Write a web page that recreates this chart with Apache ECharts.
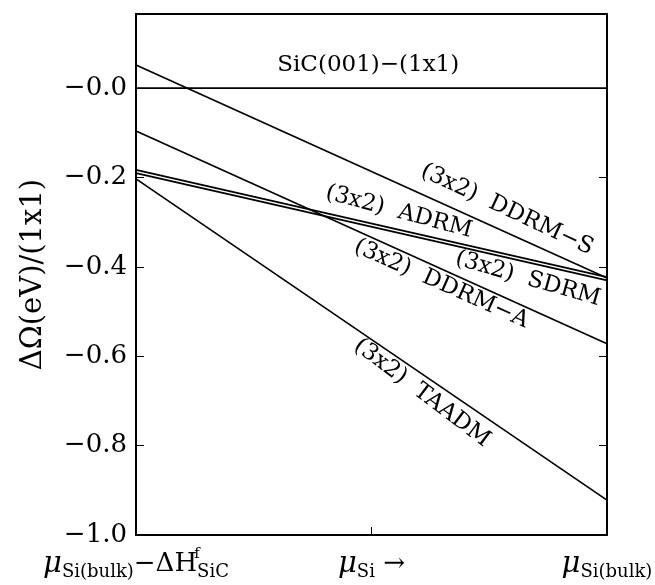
<!DOCTYPE html>
<html>
<head>
<meta charset="utf-8">
<script src="https://cdn.jsdelivr.net/npm/echarts@6/dist/echarts.min.js"></script>
<style>
html, body { margin: 0; padding: 0; background: #fff; }
#chart { width: 655px; height: 585px; }
</style>
</head>
<body>
<div id="chart"></div>
<script>
// chemical potential axis: 0 = Si-poor limit, 1 = bulk Si
var muSi = [0, 1];

// surface energies relative to (1x1), eV
var sic1x1 = [0, 0];
var ddrmS = [0.052, -0.425];
var ddrmA = [-0.096, -0.572];
var adrm = [-0.183, -0.423];
var sdrm = [-0.190, -0.430];
var taadm = [-0.203, -0.922];

var yTicks = [-1.0, -0.8, -0.6, -0.4, -0.2, 0.0];
var xTickValues = [0, 0.5, 1];
var xTickLabels = [
    '{mu|μ}{sub|Si(bulk)}{m|−ΔH}{sup|f}{sub|SiC}',
    '{mu|μ}{sub|Si}{m| →}',
    '{mu|μ}{sub|Si(bulk)}'
];

// curve annotations (text, anchor in data coords, angle)
var notes = [
    ['SiC(001)−(1x1)', 0.493, 0.052, 0],
    ['(3x2)  DDRM−S', 0.788, -0.272, -25],
    ['(3x2)  ADRM', 0.558, -0.277, -15],
    ['(3x2)  SDRM', 0.832, -0.427, -16],
    ['(3x2)  DDRM−A', 0.648, -0.438, -24],
    ['(3x2)  TAADM', 0.607, -0.682, -37]
];

var FONT = '"DejaVu Serif", "Liberation Serif", serif';

function pairs(ys) {
    var out = [];
    for (var i = 0; i < muSi.length; i++) out.push([muSi[i], ys[i]]);
    return out;
}

function line(ys) {
    return {
        type: 'line',
        data: pairs(ys),
        symbol: 'none',
        lineStyle: { color: '#000', width: 1.7 },
        silent: true
    };
}

var chart = echarts.init(document.getElementById('chart'));

var option = {
    animation: false,
    backgroundColor: '#fff',
    grid: {
        left: 136, right: 48, top: 14, bottom: 50,
        containLabel: false,
        outerBoundsMode: 'none'
    },
    xAxis: [
        {
            type: 'value',
            min: 0, max: 1, interval: 0.5,
            position: 'bottom',
            splitLine: { show: false },
            axisLine: { show: true, onZero: false, lineStyle: { color: '#000', width: 2 } },
            axisTick: { show: true, inside: true, length: 8, lineStyle: { color: '#000', width: 1 } },
            axisLabel: {
                margin: 12,
                color: '#000',
                formatter: function (v) {
                    var i = xTickValues.indexOf(v);
                    return i < 0 ? '' : xTickLabels[i];
                },
                rich: {
                    mu: { fontFamily: FONT, fontStyle: 'italic', fontSize: 29, color: '#000', lineHeight: 34 },
                    sub: { fontFamily: FONT, fontSize: 18, color: '#000', verticalAlign: 'bottom' },
                    sup: { fontFamily: FONT, fontSize: 15, color: '#000', verticalAlign: 'top', width: 0 },
                    m: { fontFamily: FONT, fontSize: 26, color: '#000' }
                }
            }
        },
        {
            type: 'value',
            min: 0, max: 1,
            position: 'top',
            splitLine: { show: false },
            axisLine: { show: true, onZero: false, lineStyle: { color: '#000', width: 2 } },
            axisTick: { show: false },
            axisLabel: { show: false }
        }
    ],
    yAxis: [
        {
            type: 'value',
            min: -1.0, max: 0.166, interval: 0.2,
            position: 'left',
            name: 'ΔΩ(eV)/(1x1)',
            nameLocation: 'middle',
            nameGap: 88,
            nameTextStyle: { fontFamily: FONT, fontSize: 29, color: '#000' },
            splitLine: { show: false },
            axisLine: { show: true, onZero: false, lineStyle: { color: '#000', width: 2 } },
            axisTick: { show: true, inside: true, length: 8, lineStyle: { color: '#000', width: 1 } },
            axisLabel: {
                inside: false,
                margin: 9,
                color: '#000',
                fontFamily: FONT,
                fontSize: 26,
                showMaxLabel: false,
                formatter: function (v) {
                    for (var i = 0; i < yTicks.length; i++) {
                        if (Math.abs(yTicks[i] - v) < 1e-6) return '\u2212' + Math.abs(yTicks[i]).toFixed(1);
                    }
                    return '';
                }
            }
        },
        {
            type: 'value',
            min: -1.0, max: 0.166, interval: 0.2,
            position: 'right',
            splitLine: { show: false },
            axisLine: { show: true, onZero: false, lineStyle: { color: '#000', width: 2 } },
            axisTick: { show: true, inside: true, length: 8, lineStyle: { color: '#000', width: 1 } },
            axisLabel: { show: false }
        }
    ],
    series: [
        line(sic1x1),
        line(ddrmS),
        line(ddrmA),
        line(adrm),
        line(sdrm),
        line(taadm)
    ]
};

chart.setOption(option);

var graphics = notes.map(function (n) {
    var p = chart.convertToPixel({ gridIndex: 0 }, [n[1], n[2]]);
    return {
        type: 'text',
        x: p[0],
        y: p[1],
        rotation: n[3] * Math.PI / 180,
        silent: true,
        style: {
            text: n[0],
            fill: '#000',
            font: '23px ' + FONT,
            textAlign: 'center',
            textVerticalAlign: 'middle'
        }
    };
});
chart.setOption({ graphic: graphics });
</script>
</body>
</html>
